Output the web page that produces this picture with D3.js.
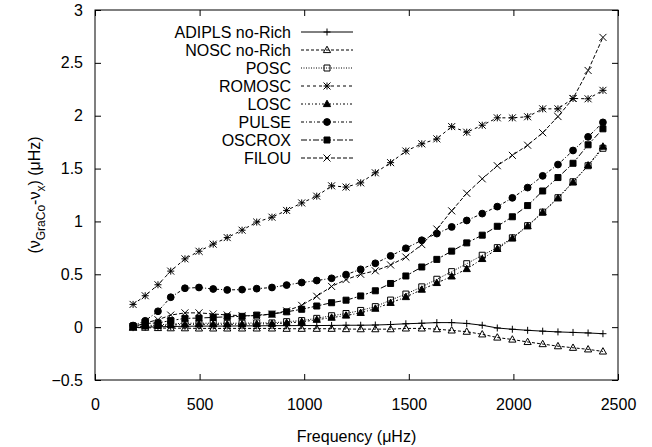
<!DOCTYPE html>
<html>
<head>
<meta charset="utf-8">
<script src="https://cdn.jsdelivr.net/npm/d3@7"></script>
<style>
  body { margin: 0; background: #fff; }
  svg { display: block; font-family: "Liberation Sans", Arial, sans-serif; }
  .axis text { font-size: 16px; fill: #000; }
  .legend text { font-size: 16px; fill: #000; }
</style>
</head>
<body>
<svg id="chart"></svg>
<script>
// mode frequencies (uHz)
const frequencies = [182, 240, 301, 362, 430, 497, 565, 632, 703, 773, 846, 916, 988, 1060, 1131, 1200,
  1270, 1340, 1413, 1486, 1562, 1634, 1705, 1777, 1851, 1923, 1995, 2068, 2140, 2213, 2285, 2357, 2428];

// frequency differences nu_GraCo - nu_X (uHz)
const adiplsNoRich = [-0.005, 0.0, 0.003, 0.006, 0.008, 0.01, 0.01, 0.01, 0.012, 0.012, 0.014, 0.014, 0.015, 0.015, 0.016, 0.018,
  0.018, 0.02, 0.025, 0.032, 0.037, 0.043, 0.043, 0.035, 0.018, -0.008, -0.02, -0.03, -0.038, -0.045, -0.05, -0.055, -0.062];
const noscNoRich = [-0.005, -0.005, -0.008, -0.01, -0.01, -0.012, -0.012, -0.012, -0.012, -0.012, -0.012, -0.015, -0.015, -0.015, -0.015, -0.018,
  -0.019, -0.019, -0.019, -0.012, -0.012, -0.019, -0.031, -0.043, -0.068, -0.098, -0.117, -0.14, -0.16, -0.18, -0.195, -0.21, -0.23];
const posc = [0.01, 0.015, 0.02, 0.03, 0.037, 0.037, 0.037, 0.037, 0.037, 0.04, 0.04, 0.052, 0.062, 0.083, 0.108, 0.129,
  0.158, 0.194, 0.256, 0.313, 0.381, 0.453, 0.525, 0.6, 0.68, 0.752, 0.845, 0.96, 1.088, 1.224, 1.375, 1.527, 1.692];
const romosc = [0.215, 0.297, 0.401, 0.53, 0.646, 0.718, 0.785, 0.847, 0.917, 0.994, 1.04, 1.104, 1.175, 1.239, 1.337, 1.325,
  1.365, 1.46, 1.556, 1.666, 1.734, 1.781, 1.897, 1.844, 1.91, 1.98, 1.98, 1.99, 2.065, 2.065, 2.163, 2.16, 2.24];
const losc = [0.0, 0.008, 0.012, 0.02, 0.025, 0.027, 0.027, 0.027, 0.027, 0.03, 0.032, 0.04, 0.05, 0.07, 0.09, 0.11,
  0.135, 0.175, 0.23, 0.285, 0.355, 0.418, 0.48, 0.55, 0.645, 0.74, 0.84, 0.955, 1.085, 1.22, 1.37, 1.53, 1.708];
const pulse = [0.015, 0.06, 0.15, 0.283, 0.368, 0.375, 0.361, 0.352, 0.355, 0.364, 0.375, 0.398, 0.422, 0.441, 0.462, 0.497,
  0.547, 0.604, 0.674, 0.746, 0.822, 0.885, 0.948, 1.009, 1.074, 1.14, 1.223, 1.32, 1.431, 1.538, 1.671, 1.8, 1.937];
const oscrox = [0.01, 0.035, 0.04, 0.062, 0.083, 0.086, 0.092, 0.098, 0.102, 0.114, 0.123, 0.145, 0.169, 0.2, 0.231, 0.255,
  0.295, 0.344, 0.413, 0.484, 0.569, 0.641, 0.719, 0.797, 0.87, 0.954, 1.044, 1.15, 1.288, 1.415, 1.55, 1.725, 1.876];
const filou = [0.0, 0.04, 0.07, 0.114, 0.135, 0.135, 0.125, 0.115, 0.108, 0.108, 0.123, 0.154, 0.206, 0.292, 0.385, 0.45,
  0.5, 0.533, 0.588, 0.663, 0.781, 0.928, 1.1, 1.266, 1.403, 1.527, 1.625, 1.721, 1.839, 1.992, 2.163, 2.428, 2.741];

const seriesNames = ["ADIPLS no-Rich", "NOSC no-Rich", "POSC", "ROMOSC", "LOSC", "PULSE", "OSCROX", "FILOU"];
const seriesValues = [adiplsNoRich, noscNoRich, posc, romosc, losc, pulse, oscrox, filou];

const xTicks = [0, 500, 1000, 1500, 2000, 2500];
const yTicks = [-0.5, 0, 0.5, 1, 1.5, 2, 2.5, 3];

// line style + point type per series (gnuplot-ish)
const styles = [
  { dash: null, marker: "plus" },
  { dash: "3,2", marker: "triangle", open: true },
  { dash: "1,1.5", marker: "square", open: true },
  { dash: "3,3", marker: "star" },
  { dash: "2,2,1,2", marker: "triangle" },
  { dash: "3,2,1,2", marker: "circle" },
  { dash: "6,2,2,2", marker: "square" },
  { dash: "4,2", marker: "cross" }
];

function markerPath(type) {
  const s = 3.5;
  const p = d3.path();
  if (type === "plus") {
    p.moveTo(-s, 0); p.lineTo(s, 0); p.moveTo(0, -s); p.lineTo(0, s);
  } else if (type === "cross") {
    p.moveTo(-s, -s); p.lineTo(s, s); p.moveTo(-s, s); p.lineTo(s, -s);
  } else if (type === "star") {
    p.moveTo(-s, 0); p.lineTo(s, 0); p.moveTo(0, -s); p.lineTo(0, s);
    p.moveTo(-s, -s); p.lineTo(s, s); p.moveTo(-s, s); p.lineTo(s, -s);
  } else if (type === "square") {
    p.rect(-3, -3, 6, 6);
  } else if (type === "triangle") {
    p.moveTo(0, -3.8); p.lineTo(3.6, 2.6); p.lineTo(-3.6, 2.6); p.closePath();
  } else if (type === "circle") {
    p.arc(0, 0, 3.4, 0, 2 * Math.PI);
  }
  return p.toString();
}

class LineChart {
  constructor(_config) {
    this.config = {
      parentElement: _config.parentElement,
      containerWidth: 652,
      containerHeight: 447,
      margin: { top: 10, right: 34, bottom: 67, left: 95 }
    };
    this.initVis();
  }

  initVis() {
    let vis = this;
    vis.width = vis.config.containerWidth - vis.config.margin.left - vis.config.margin.right;
    vis.height = vis.config.containerHeight - vis.config.margin.top - vis.config.margin.bottom;

    vis.svg = d3.select(vis.config.parentElement)
      .attr("width", vis.config.containerWidth)
      .attr("height", vis.config.containerHeight);

    vis.chart = vis.svg.append("g")
      .attr("transform", `translate(${vis.config.margin.left},${vis.config.margin.top})`);

    vis.xScale = d3.scaleLinear().domain([0, 2500]).range([0, vis.width]);
    vis.yScale = d3.scaleLinear().domain([-0.5, 3]).range([vis.height, 0]);

    // ticks point inward on all four sides, labels only bottom/left
    vis.chart.append("g").attr("class", "axis")
      .attr("transform", `translate(0,${vis.height})`)
      .call(d3.axisBottom(vis.xScale).tickValues(xTicks).tickSizeInner(-6).tickSizeOuter(0).tickPadding(19).tickFormat(d3.format("d")));
    vis.chart.append("g").attr("class", "axis")
      .call(d3.axisTop(vis.xScale).tickValues(xTicks).tickSizeInner(-6).tickSizeOuter(0).tickFormat(""));
    vis.chart.append("g").attr("class", "axis")
      .call(d3.axisLeft(vis.yScale).tickValues(yTicks).tickSizeInner(-6).tickSizeOuter(0).tickPadding(12).tickFormat(d3.format("")));
    vis.chart.append("g").attr("class", "axis")
      .attr("transform", `translate(${vis.width},0)`)
      .call(d3.axisRight(vis.yScale).tickValues(yTicks).tickSizeInner(-6).tickSizeOuter(0).tickFormat(""));
    vis.chart.selectAll(".axis .domain").remove();
    vis.chart.selectAll(".axis line").attr("stroke", "#000");

    vis.chart.append("rect")
      .attr("width", vis.width)
      .attr("height", vis.height)
      .attr("fill", "none")
      .attr("stroke", "#000");

    // axis titles
    vis.chart.append("text")
      .attr("x", vis.width / 2)
      .attr("y", vis.height + 62)
      .attr("text-anchor", "middle")
      .style("font-size", "16px")
      .text("Frequency (\u03BCHz)");

    const ylab = vis.chart.append("text")
      .attr("transform", `translate(${-55},${vis.height / 2}) rotate(-90)`)
      .attr("text-anchor", "middle")
      .style("font-size", "16px");
    ylab.append("tspan").text("(\u03BD");
    ylab.append("tspan").attr("dy", 5).style("font-size", "12px").text("GraCo");
    ylab.append("tspan").attr("dy", -5).text("-\u03BD");
    ylab.append("tspan").attr("dy", 5).style("font-size", "12px").text("x");
    ylab.append("tspan").attr("dy", -5).text(") (\u03BCHz)");

    vis.renderVis();
  }

  renderVis() {
    let vis = this;
    const line = d3.line()
      .x(d => vis.xScale(d[0]))
      .y(d => vis.yScale(d[1]));

    seriesValues.forEach((vals, i) => {
      const pts = frequencies.map((f, j) => [f, vals[j]]);
      const st = styles[i];
      const g = vis.chart.append("g").attr("class", "series");
      g.append("path")
        .datum(pts)
        .attr("d", line)
        .attr("fill", "none")
        .attr("stroke", "#000")
        .attr("stroke-width", 1)
        .attr("stroke-dasharray", st.dash);
      g.selectAll(".pt")
        .data(pts)
        .join("path")
        .attr("class", "pt")
        .attr("transform", d => `translate(${vis.xScale(d[0])},${vis.yScale(d[1])})`)
        .attr("d", markerPath(st.marker))
        .attr("fill", (st.open || ["plus", "cross", "star"].includes(st.marker)) ? "none" : "#000")
        .attr("stroke", "#000")
        .attr("stroke-width", 1);
    });

    // legend, top left inside the frame
    const legend = vis.chart.append("g").attr("class", "legend");
    seriesNames.forEach((name, i) => {
      const y = 22 + i * 18;
      const st = styles[i];
      legend.append("text")
        .attr("x", 196)
        .attr("y", y)
        .attr("dy", "0.35em")
        .attr("text-anchor", "end")
        .text(name);
      legend.append("line")
        .attr("x1", 206).attr("x2", 258)
        .attr("y1", y).attr("y2", y)
        .attr("stroke", "#000")
        .attr("stroke-dasharray", st.dash);
      legend.append("path")
        .attr("transform", `translate(232,${y})`)
        .attr("d", markerPath(st.marker))
        .attr("fill", (st.open || ["plus", "cross", "star"].includes(st.marker)) ? "none" : "#000")
        .attr("stroke", "#000");
    });
  }
}

new LineChart({ parentElement: "#chart" });
</script>
</body>
</html>
